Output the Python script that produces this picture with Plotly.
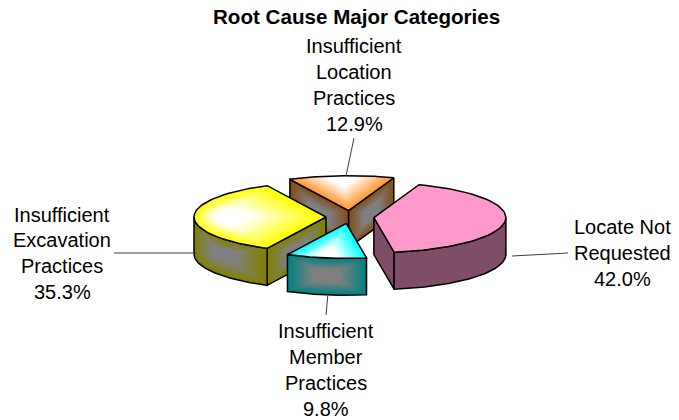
import numpy as np
import plotly.graph_objects as go

# ---- data ----
categories = ["Locate Not Requested", "Insufficient Member Practices",
              "Insufficient Excavation Practices", "Insufficient Location Practices"]
values = [42.0, 9.8, 35.3, 12.9]
label_lines = [["Locate Not", "Requested"], ["Insufficient", "Member", "Practices"],
               ["Insufficient", "Excavation", "Practices"], ["Insufficient", "Location", "Practices"]]
title_text = "Root Cause Major Categories"

# ---- styles / layout ----
top_edge = [(255, 153, 204), (0, 255, 255), (255, 255, 0), (255, 153, 51)]
top_mid = [(255, 153, 204), (255, 255, 255), (255, 255, 255), (255, 255, 255)]
wall_edge = [(128, 77, 102), (0, 128, 128), (128, 128, 0), (128, 77, 26)]
wall_mid = [(128, 77, 102), (128, 128, 128), (128, 128, 128), (128, 128, 128)]
visible_faces = [("end",), (), ("start",), ("start", "end")]
CX, CY, RX, RY, DEPTH, EXPLODE, START = 350, 217, 132, 35, 37, 24, 70
label_pos = [(622, [227, 253, 279]), (326, [331, 357, 383, 409]),
             (62, [215, 240, 266, 292]), (354, [46, 72, 98, 124])]
leaders = [((512, 256), (568, 253)), ((328, 293), (326, 315)),
           ((197, 253), (114, 253)), ((346, 176), (354, 138))]
LAYERS = 22

fig = go.Figure()


def add_poly(pts, color):
    pts = np.asarray(pts)
    fig.add_trace(go.Scatter(
        x=pts[:, 0], y=pts[:, 1], mode="lines", fill="toself",
        fillcolor=color, hoverinfo="skip", showlegend=False,
        line=dict(color=color, width=0)))


def gradient_poly(pts, edge, mid, reach=1.0):
    pts = np.asarray(pts)
    c = pts.mean(axis=0)
    n = 1 if edge == mid else LAYERS
    for k in range(n):
        f = k / LAYERS
        t = min(1.0, f / reach)
        col = tuple(int(round(e + (m - e) * t)) for e, m in zip(edge, mid))
        add_poly(c + (pts - c) * (1 - f), "rgb(%d,%d,%d)" % col)
    closed = np.vstack([pts, pts[:1]])
    fig.add_trace(go.Scatter(x=closed[:, 0], y=closed[:, 1], mode="lines",
                             line=dict(color="black", width=1.5),
                             hoverinfo="skip", showlegend=False))


def arc(ax, ay, a0, a1):
    t = np.radians(np.linspace(a0, a1, 60))
    return np.column_stack([ax + RX * np.cos(t), ay - RY * np.sin(t)])


def draw(i, ax, ay, a0, a1):
    ang = {"start": a0, "end": a1}
    for side in visible_faces[i]:
        p = arc(ax, ay, ang[side], ang[side])[0]
        face = np.array([[ax, ay], p, p + [0, DEPTH], [ax, ay + DEPTH]])
        gradient_poly(face, wall_edge[i], wall_mid[i], 0.65)
    # outer curved wall: only the part on the front half of the ellipse
    lo, hi = max(a1, -180), min(a0, 0)
    if hi > lo:
        w = arc(ax, ay, hi, lo)
        wall = np.vstack([w, (w + [0, DEPTH])[::-1]])
        gradient_poly(wall, wall_edge[i], wall_mid[i], 0.65)
    top = np.vstack([[[ax, ay]], arc(ax, ay, a0, a1)])
    gradient_poly(top, top_edge[i], top_mid[i], 0.7)


shares = np.array(values) / sum(values) * 360
ends = START - np.cumsum(shares)
starts = ends + shares
wedges = []
for i in range(len(values)):
    mid = np.radians((starts[i] + ends[i]) / 2)
    wedges.append((i, CX + EXPLODE * np.cos(mid),
                   CY - EXPLODE * RY / RX * np.sin(mid), starts[i], ends[i]))

for idx in (3, 2, 0, 1):
    draw(*wedges[idx])

for (p, q) in leaders:
    fig.add_trace(go.Scatter(x=[p[0], q[0]], y=[p[1], q[1]], mode="lines",
                             line=dict(color="#404040", width=1),
                             hoverinfo="skip", showlegend=False))

annotations = [dict(x=356, y=16, text="<b>%s</b>" % title_text, showarrow=False,
                    font=dict(size=20.6, family="Liberation Sans", color="black"),
                    xref="x", yref="y")]
for lines, v, (lx, ys) in zip(label_lines, values, label_pos):
    for s, y in zip(lines + ["%.1f%%" % v], ys):
        annotations.append(dict(x=lx, y=y, text=s, showarrow=False, xref="x", yref="y",
                                font=dict(size=20, family="Liberation Sans", color="black")))

fig.update_layout(
    width=679, height=420, margin=dict(l=0, r=0, t=0, b=0),
    paper_bgcolor="white", plot_bgcolor="white", showlegend=False,
    xaxis=dict(range=[0, 679], visible=False, fixedrange=True),
    yaxis=dict(range=[420, 0], visible=False, fixedrange=True),
    annotations=annotations,
)
fig.write_html("out.html", config=dict(displayModeBar=False),
               post_script="document.body.style.margin='0';document.documentElement.style.overflow='hidden';")
